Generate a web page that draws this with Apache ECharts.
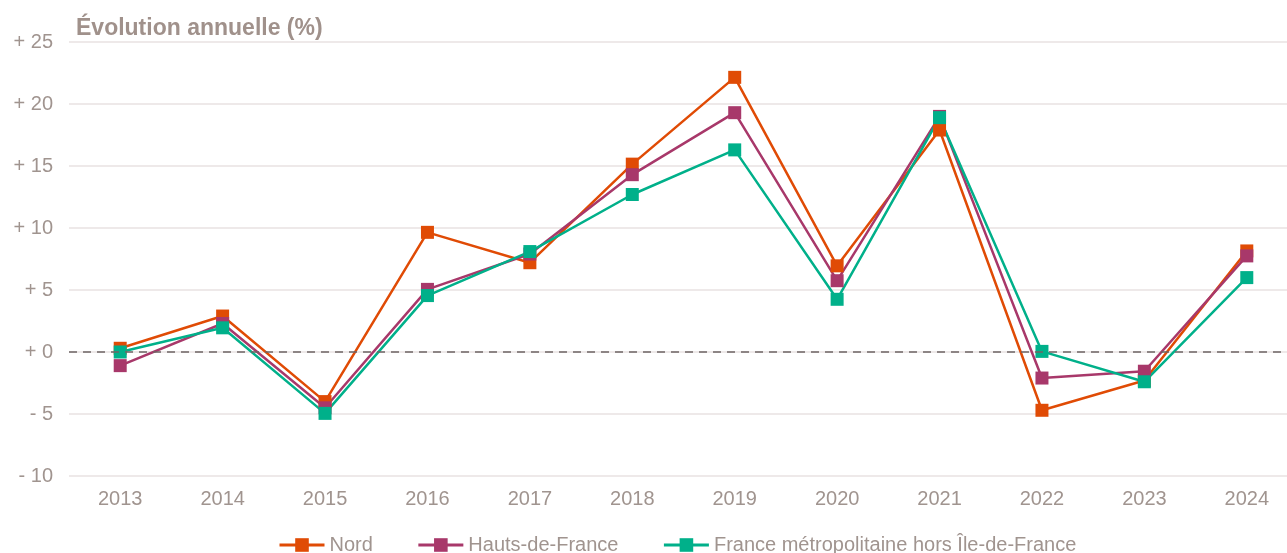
<!DOCTYPE html>
<html>
<head>
<meta charset="utf-8">
<script src="https://cdn.jsdelivr.net/npm/echarts@6/dist/echarts.min.js"></script>
<style>
html,body{margin:0;padding:0;background:#fff;}
#chart{width:1287px;height:553px;}
</style>
</head>
<body>
<div id="chart"></div>
<script>
const years = ['2013','2014','2015','2016','2017','2018','2019','2020','2021','2022','2023','2024'];
const nord = [0.3, 2.9, -4.0, 9.65, 7.2, 15.15, 22.15, 6.95, 17.9, -4.7, -2.3, 8.15];
const hdf = [-1.1, 2.3, -4.5, 5.05, 7.9, 14.3, 19.3, 5.75, 19.0, -2.1, -1.55, 7.75];
const france = [0.0, 1.95, -4.95, 4.55, 8.1, 12.7, 16.3, 4.25, 18.9, 0.05, -2.4, 6.0];
const seriesNames = ['Nord', 'Hauts-de-France', 'France métropolitaine hors Île-de-France'];
const colors = ['#e04b05', '#a8386a', '#00b08a'];

const chart = echarts.init(document.getElementById('chart'));
const txt = '#a0948f';
function mk(name, data, color, extra) {
  return Object.assign({
    name: name,
    type: 'line',
    data: data,
    symbol: 'rect',
    symbolSize: 13,
    color: color,
    lineStyle: { width: 2.5, color: color },
    itemStyle: { color: color },
    emphasis: { disabled: true },
    animation: false
  }, extra || {});
}
chart.setOption({
  animation: false,
  title: {
    text: 'Évolution annuelle (%)',
    left: 76, top: 17, padding: 0,
    textStyle: { fontFamily: 'Liberation Sans, Arial, sans-serif', fontSize: 23, fontWeight: 'bold', color: '#a0918b' }
  },
  grid: { left: 69, width: 1229, top: 42, bottom: 77, containLabel: false, outerBoundsMode: 'none' },
  legend: {
    left: 273, top: 530,
    itemWidth: 45, itemHeight: 17, itemGap: 44,
    lineStyle: { width: 3 },
    textStyle: { fontFamily: 'Liberation Sans, Arial, sans-serif', fontSize: 20, color: txt },
    data: seriesNames
  },
  xAxis: {
    type: 'category',
    data: years,
    boundaryGap: true,
    axisLine: { show: false },
    axisTick: { show: false },
    axisLabel: { margin: 13, fontFamily: 'Liberation Sans, Arial, sans-serif', fontSize: 20, color: txt }
  },
  yAxis: {
    type: 'value',
    min: -10, max: 25, interval: 5,
    axisLine: { show: false },
    axisTick: { show: false },
    splitLine: { lineStyle: { color: '#e8e2e2', width: 1.5 } },
    axisLabel: {
      margin: 16,
      fontFamily: 'Liberation Sans, Arial, sans-serif', fontSize: 20, color: txt,
      formatter: function (v) { return (v < 0 ? '- ' : '+ ') + Math.abs(v); }
    }
  },
  series: [
    mk(seriesNames[0], nord, colors[0], {
      markLine: {
        silent: true, symbol: 'none', label: { show: false },
        lineStyle: { color: '#6e6464', type: [8, 6], width: 1.5 },
        data: [{ yAxis: 0 }],
        animation: false
      }
    }),
    mk(seriesNames[1], hdf, colors[1]),
    mk(seriesNames[2], france, colors[2])
  ]
});
</script>
</body>
</html>
